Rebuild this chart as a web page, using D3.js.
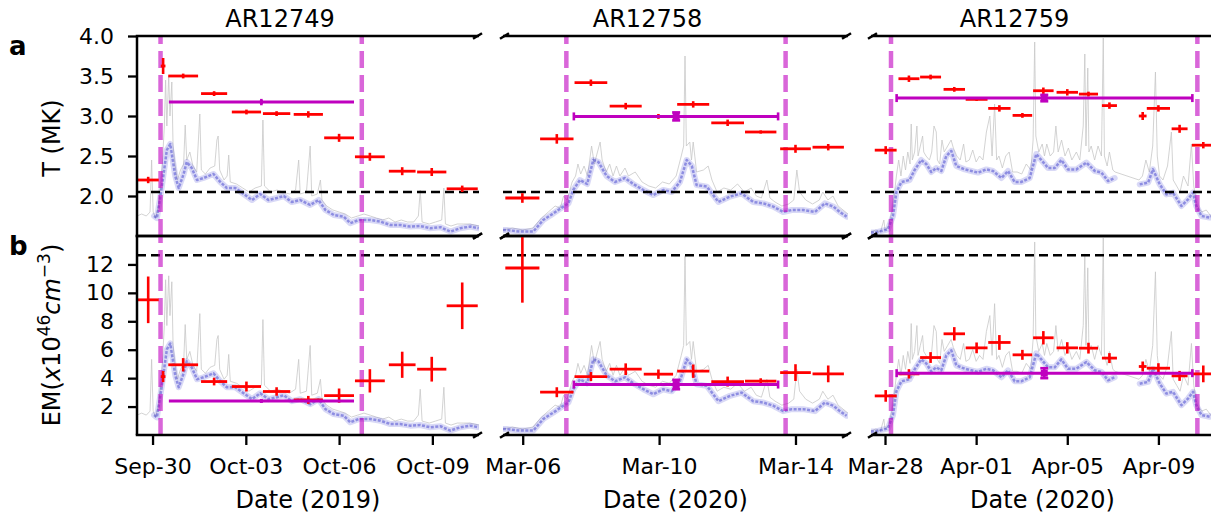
<!DOCTYPE html>
<html><head><meta charset="utf-8">
<script src="https://cdn.jsdelivr.net/npm/d3@7"></script>
<style>body{margin:0;background:#fff;} svg text{font-family:"DejaVu Sans",sans-serif;fill:#000;}</style>
</head><body><svg id="chart" width="1211" height="518"></svg>
<script>
// ---------------- data ----------------
const regions = ["AR12749", "AR12758", "AR12759"];
const dateLabels = ["Date (2019)", "Date (2020)", "Date (2020)"];
const refDates = ["2019-09-30", "2020-03-06", "2020-03-28"];
const xDomainDays = [[-0.5, 10.5], [-0.578, 9.54], [-0.615, 14.44]];
const tickDays = [[0, 3, 6, 9], [0, 4, 8], [0, 4, 8, 12]];
const tTicks = [2.0, 2.5, 3.0, 3.5, 4.0];
const emTicks = [2, 4, 6, 8, 10, 12];
const tThreshold = 2.05;
const emThreshold = 12.65;

// observations: [dayOffset, halfWidthDays, T (MK), T err, EM, EM err]
const obs1 = [
  [-0.14, 0.34, 2.20, 0.04, 9.51, 1.64], [0.34, 0.075, 3.625, 0.10, 4.11, 0.39],
  [0.985, 0.48, 3.50, 0.03, 4.94, 0.47], [1.98, 0.42, 3.28, 0.03, 3.76, 0.27],
  [3.02, 0.47, 3.05, 0.03, 3.41, 0.35], [3.99, 0.44, 3.03, 0.03, 3.06, 0.30],
  [5.01, 0.47, 3.02, 0.04, 2.47, 0.28], [6.0, 0.48, 2.727, 0.05, 2.77, 0.50],
  [6.99, 0.48, 2.49, 0.05, 3.81, 0.82], [8.03, 0.43, 2.31, 0.05, 4.94, 0.92],
  [8.98, 0.47, 2.30, 0.05, 4.63, 0.87], [9.96, 0.50, 2.09, 0.04, 9.09, 1.64]
];
const obs2 = [
  [-0.01, 0.50, 1.975, 0.06, 11.75, 2.44], [1.0, 0.49, 2.714, 0.06, 3.01, 0.35],
  [2.0, 0.48, 3.416, 0.04, 4.11, 0.32], [3.02, 0.47, 3.124, 0.04, 4.63, 0.41],
  [3.98, 0.43, 2.995, 0.03, 4.28, 0.33], [5.0, 0.47, 3.145, 0.04, 4.49, 0.47],
  [6.01, 0.48, 2.915, 0.04, 3.76, 0.35], [6.98, 0.46, 2.80, 0.02, 3.79, 0.20],
  [8.0, 0.45, 2.59, 0.05, 4.39, 0.59], [8.96, 0.46, 2.61, 0.04, 4.30, 0.59]
];
const obs3 = [
  [0.03, 0.48, 2.573, 0.05, 2.75, 0.41], [1.05, 0.46, 3.466, 0.04, 4.30, 0.33],
  [2.0, 0.46, 3.487, 0.03, 5.45, 0.38], [3.04, 0.47, 3.333, 0.03, 7.12, 0.47],
  [4.02, 0.48, 3.208, 0.02, 6.13, 0.38], [5.02, 0.49, 3.095, 0.04, 6.51, 0.52],
  [6.03, 0.43, 3.0075, 0.03, 5.64, 0.35], [6.95, 0.45, 3.316, 0.04, 6.84, 0.47],
  [8.0, 0.47, 3.296, 0.04, 6.13, 0.40], [8.93, 0.42, 3.274, 0.03, 6.11, 0.38],
  [9.85, 0.33, 3.13, 0.04, 5.41, 0.35], [11.31, 0.17, 3.0, 0.05, 4.82, 0.35],
  [12.0, 0.51, 3.095, 0.04, 4.70, 0.35], [12.93, 0.35, 2.84, 0.05, 4.16, 0.35],
  [13.97, 0.50, 2.635, 0.04, 4.30, 0.59]
];

// interval means: [startDay, endDay, centerDay, T, T err, EM, EM err]
const mean1 = [0.525, 6.48, 3.5, 3.174, 0.04, 2.40, 0.10];
const mean2 = [1.5, 7.49, 4.5, 2.995, 0.05, 3.55, 0.33];
const mean3 = [0.51, 13.49, 6.99, 3.224, 0.04, 4.35, 0.35];
const meanCaps = [false, true, true];

// interval boundaries (days)
const vlines1 = [0.257, 6.73];
const vlines2 = [1.28, 7.71];
const vlines3 = [0.263, 13.71];

// light curves, normalised to the panel height: [day, level 0..1]
const gray1 = [[-0.5,0.10],[-0.35,0.11],[-0.2,0.10],[-0.08,0.12],[-0.03,0.38],[0.02,0.12],[0.1,0.09],[0.2,0.16],[0.3,0.32],[0.38,0.55],[0.42,0.78],[0.46,0.55],[0.52,0.80],[0.56,0.6],[0.62,0.77],[0.66,0.45],[0.72,0.36],[0.8,0.28],[0.9,0.33],[1.0,0.36],[1.05,0.555],[1.1,0.38],[1.2,0.42],[1.3,0.35],[1.42,0.32],[1.52,0.61],[1.57,0.33],[1.7,0.31],[1.85,0.34],[2.0,0.35],[2.07,0.48],[2.11,0.50],[2.16,0.33],[2.3,0.28],[2.4,0.30],[2.45,0.405],[2.5,0.27],[2.7,0.26],[2.9,0.24],[3.1,0.22],[3.3,0.24],[3.5,0.25],[3.55,0.58],[3.6,0.25],[3.8,0.22],[4.0,0.23],[4.2,0.22],[4.4,0.21],[4.6,0.23],[4.7,0.38],[4.75,0.21],[4.95,0.22],[5.07,0.45],[5.12,0.20],[5.3,0.21],[5.4,0.28],[5.45,0.18],[5.6,0.15],[5.8,0.13],[6.0,0.12],[6.2,0.11],[6.4,0.09],[6.6,0.10],[6.8,0.11],[7.0,0.10],[7.2,0.09],[7.4,0.08],[7.6,0.09],[7.8,0.07],[8.0,0.08],[8.2,0.07],[8.4,0.07],[8.55,0.10],[8.61,0.23],[8.67,0.07],[8.9,0.06],[9.1,0.07],[9.3,0.08],[9.37,0.24],[9.42,0.06],[9.6,0.05],[9.8,0.06],[10.0,0.06],[10.2,0.06],[10.5,0.05]];
const blue1 = [[0.05,0.10],[0.14,0.089],[0.30,0.247],[0.46,0.43],[0.57,0.46],[0.73,0.30],[0.84,0.24],[1.0,0.31],[1.10,0.37],[1.26,0.34],[1.43,0.28],[1.64,0.29],[1.96,0.31],[2.18,0.27],[2.39,0.24],[2.66,0.24],[2.93,0.21],[3.20,0.18],[3.46,0.21],[3.73,0.18],[4.0,0.19],[4.22,0.20],[4.48,0.17],[4.75,0.18],[5.07,0.155],[5.34,0.18],[5.56,0.13],[5.83,0.105],[6.15,0.097],[6.36,0.064],[6.63,0.08],[7.0,0.08],[7.33,0.072],[7.65,0.055],[7.97,0.055],[8.29,0.047],[8.61,0.05],[8.93,0.039],[9.26,0.044],[9.58,0.022],[9.90,0.039],[10.22,0.047],[10.49,0.039]];
const gray2 = [[-0.58,0.03],[-0.3,0.04],[0,0.03],[0.3,0.04],[0.55,0.09],[0.75,0.12],[0.95,0.15],[1.1,0.14],[1.2,0.2],[1.3,0.18],[1.45,0.27],[1.55,0.3],[1.62,0.36],[1.7,0.31],[1.8,0.35],[1.9,0.30],[2.02,0.45],[2.1,0.36],[2.27,0.47],[2.33,0.38],[2.45,0.32],[2.55,0.36],[2.65,0.30],[2.75,0.35],[2.85,0.30],[3.0,0.34],[3.1,0.30],[3.3,0.32],[3.5,0.27],[3.7,0.25],[3.9,0.24],[4.1,0.27],[4.3,0.26],[4.5,0.30],[4.65,0.40],[4.72,0.45],[4.76,0.90],[4.8,0.45],[4.9,0.47],[4.95,0.38],[5.0,0.47],[5.1,0.32],[5.3,0.33],[5.44,0.35],[5.55,0.28],[5.7,0.22],[5.9,0.24],[6.1,0.23],[6.3,0.26],[6.5,0.22],[6.7,0.24],[6.85,0.20],[7.0,0.19],[7.16,0.28],[7.25,0.19],[7.4,0.17],[7.6,0.15],[7.8,0.16],[7.95,0.18],[8.04,0.33],[8.12,0.22],[8.3,0.18],[8.5,0.16],[8.7,0.18],[8.8,0.22],[8.95,0.18],[9.1,0.20],[9.25,0.15],[9.54,0.11]];
const blue2 = [[-0.58,0.03],[-0.47,0.03],[-0.08,0.022],[0.31,0.022],[0.60,0.08],[0.90,0.113],[1.19,0.147],[1.34,0.163],[1.48,0.23],[1.68,0.28],[1.89,0.26],[2.07,0.38],[2.22,0.37],[2.46,0.30],[2.71,0.27],[3.0,0.29],[3.24,0.26],[3.54,0.23],[3.83,0.205],[4.12,0.23],[4.37,0.22],[4.61,0.27],[4.81,0.38],[4.96,0.35],[5.10,0.255],[5.40,0.247],[5.74,0.17],[6.08,0.197],[6.42,0.213],[6.76,0.17],[7.06,0.163],[7.35,0.147],[7.64,0.12],[7.89,0.13],[8.22,0.13],[8.57,0.12],[8.86,0.163],[9.11,0.147],[9.30,0.12],[9.50,0.097]];
const gray3 = [[-0.62,0.02],[-0.4,0.03],[-0.2,0.02],[-0.05,0.08],[0.0,0.03],[0.15,0.05],[0.3,0.12],[0.4,0.2],[0.5,0.3],[0.6,0.38],[0.7,0.3],[0.8,0.4],[0.9,0.33],[1.0,0.42],[1.1,0.36],[1.15,0.56],[1.2,0.38],[1.3,0.42],[1.4,0.55],[1.45,0.4],[1.55,0.45],[1.65,0.5],[1.7,0.42],[1.8,0.40],[1.95,0.38],[2.05,0.42],[2.15,0.55],[2.25,0.52],[2.3,0.38],[2.4,0.36],[2.5,0.48],[2.6,0.42],[2.75,0.45],[2.9,0.48],[3.0,0.44],[3.15,0.40],[3.3,0.38],[3.45,0.46],[3.55,0.37],[3.7,0.38],[3.85,0.43],[4.0,0.37],[4.15,0.40],[4.3,0.38],[4.45,0.52],[4.6,0.6],[4.7,0.40],[4.81,0.66],[4.9,0.38],[5.0,0.40],[5.15,0.34],[5.3,0.40],[5.45,0.42],[5.6,0.32],[5.8,0.32],[6.0,0.31],[6.2,0.36],[6.4,0.33],[6.5,0.48],[6.57,0.97],[6.62,0.5],[6.75,0.42],[6.9,0.46],[7.0,0.40],[7.1,0.46],[7.25,0.40],[7.4,0.42],[7.5,0.55],[7.6,0.42],[7.75,0.48],[7.9,0.40],[8.05,0.44],[8.2,0.38],[8.4,0.42],[8.55,0.38],[8.7,0.55],[8.77,0.91],[8.82,0.45],[8.9,0.84],[8.95,0.42],[9.05,0.45],[9.2,0.38],[9.35,0.45],[9.5,0.40],[9.58,0.99],[9.63,0.40],[9.75,0.35],[9.85,0.42],[10.0,0.33],[10.1,0.32],[11.15,0.28],[11.3,0.30],[11.45,0.38],[11.6,0.32],[11.75,0.45],[11.87,0.82],[11.95,0.40],[12.05,0.30],[12.2,0.28],[12.4,0.35],[12.57,0.52],[12.65,0.28],[12.8,0.25],[12.95,0.22],[13.1,0.30],[13.3,0.25],[13.45,0.46],[13.55,0.25],[13.7,0.15],[13.9,0.12],[14.1,0.13],[14.3,0.10],[14.45,0.11]];
const blue3 = [[-0.62,0.017],[-0.45,0.017],[0.13,0.033],[0.35,0.10],[0.50,0.22],[0.72,0.27],[1.08,0.28],[1.30,0.33],[1.59,0.38],[1.81,0.36],[2.03,0.32],[2.25,0.34],[2.47,0.325],[2.69,0.40],[2.91,0.425],[3.13,0.35],[3.50,0.333],[3.79,0.325],[4.08,0.317],[4.45,0.333],[4.74,0.325],[5.11,0.29],[5.40,0.325],[5.69,0.27],[5.98,0.27],[6.35,0.29],[6.64,0.41],[6.86,0.38],[7.16,0.34],[7.45,0.34],[7.74,0.38],[8.03,0.333],[8.40,0.333],[8.84,0.367],[9.21,0.325],[9.50,0.317],[9.79,0.275],[10.08,0.29],[10.6,null],[11.18,0.258],[11.55,0.267],[11.76,0.333],[12.06,0.258],[12.35,0.208],[12.64,0.217],[13.01,0.15],[13.30,0.183],[13.52,0.217],[13.66,0.15],[13.89,0.10],[14.25,0.092],[14.45,0.10]];

const obsAll = [obs1, obs2, obs3];
const meanAll = [mean1, mean2, mean3];
const vlinesAll = [vlines1, vlines2, vlines3];
const grayAll = [gray1, gray2, gray3];
const blueAll = [blue1, blue2, blue3];

// ---------------- layout ----------------
const svg = d3.select("#chart");
const panelX = [[137, 479], [503, 848], [871, 1214]];
const rows = [
  { key: "T", top: 36, bottom: 236, y: d3.scaleLinear().domain([1.5, 4.0]).range([236, 36]), vi: 2, ei: 3, thr: tThreshold, mi: 3, mei: 4 },
  { key: "EM", top: 236, bottom: 435, y: d3.scaleLinear().domain([0, 14]).range([435, 236]), vi: 4, ei: 5, thr: emThreshold, mi: 5, mei: 6 }
];
const DAY = 864e5;
const RED = "#ff0000", MAG = "#bf00bf", VLINE = "rgba(191,0,191,0.6)";
const defs = svg.append("defs");

panelX.forEach((px, i) => {
  const ref = new Date(refDates[i] + "T00:00:00Z");
  const toDate = d => new Date(ref.getTime() + d * DAY);
  const x = d3.scaleUtc().domain(xDomainDays[i].map(toDate)).range(px);
  const X = d => x(toDate(d));

  rows.forEach((row, r) => {
    const y = row.y;
    const lc = d3.scaleLinear().domain([0, 1]).range([row.bottom, row.top]);
    const cid = `clip-${r}-${i}`;
    defs.append("clipPath").attr("id", cid).append("rect")
      .attr("x", px[0]).attr("y", row.top).attr("width", px[1] - px[0]).attr("height", row.bottom - row.top);
    const g = svg.append("g").attr("clip-path", `url(#${cid})`);

    // gray light curve
    g.append("path").datum(grayAll[i])
      .attr("d", d3.line().x(d => X(d[0])).y(d => lc(d[1])))
      .attr("fill", "none").attr("stroke", "#c8c8c8").attr("stroke-width", 1).attr("opacity", 0.8);
    // blue smoothed curve
    const bl = d3.line().defined(d => d[1] !== null).x(d => X(d[0])).y(d => lc(d[1]));
    g.append("path").datum(blueAll[i]).attr("d", bl)
      .attr("fill", "none").attr("stroke", "#4040d0").attr("stroke-width", 6).attr("opacity", 0.2)
      .attr("stroke-linejoin", "round").attr("stroke-linecap", "round");
    g.append("path").datum(blueAll[i]).attr("d", bl)
      .attr("fill", "none").attr("stroke", "#3030c8").attr("stroke-width", 2.5).attr("opacity", 0.45)
      .attr("stroke-linejoin", "round").attr("stroke-dasharray", "3,1.5");

    // threshold
    g.append("line").attr("x1", px[0]).attr("x2", px[1])
      .attr("y1", y(row.thr)).attr("y2", y(row.thr))
      .attr("stroke", "#000").attr("stroke-width", 2.6).attr("stroke-dasharray", "9,5");

    // interval boundaries
    g.selectAll(null).data(vlinesAll[i]).join("line")
      .attr("x1", d => X(d)).attr("x2", d => X(d))
      .attr("y1", row.bottom).attr("y2", row.top)
      .attr("stroke", VLINE).attr("stroke-width", 4.5).attr("stroke-dasharray", "17,7");

    // red error bars
    const ob = obsAll[i];
    g.selectAll(null).data(ob).join("line")
      .attr("x1", d => X(d[0] - d[1])).attr("x2", d => X(d[0] + d[1]))
      .attr("y1", d => y(d[row.vi])).attr("y2", d => y(d[row.vi]))
      .attr("stroke", RED).attr("stroke-width", 2.8);
    g.selectAll(null).data(ob).join("line")
      .attr("x1", d => X(d[0])).attr("x2", d => X(d[0]))
      .attr("y1", d => y(d[row.vi] - d[row.ei])).attr("y2", d => y(d[row.vi] + d[row.ei]))
      .attr("stroke", RED).attr("stroke-width", 2.6);

    // interval mean
    const m = meanAll[i];
    const my = y(m[row.mi]);
    g.append("line").attr("x1", X(m[0])).attr("x2", X(m[1])).attr("y1", my).attr("y2", my)
      .attr("stroke", MAG).attr("stroke-width", 3);
    g.append("line").attr("x1", X(m[2])).attr("x2", X(m[2]))
      .attr("y1", y(m[row.mi] - m[row.mei])).attr("y2", y(m[row.mi] + m[row.mei]))
      .attr("stroke", MAG).attr("stroke-width", 2.6);
    if (meanCaps[i]) {
      [m[0], m[1]].forEach(d => {
        g.append("line").attr("x1", X(d)).attr("x2", X(d)).attr("y1", my - 4).attr("y2", my + 4)
          .attr("stroke", MAG).attr("stroke-width", 2.6);
      });
      [m[row.mi] - m[row.mei], m[row.mi] + m[row.mei]].forEach(v => {
        g.append("line").attr("x1", X(m[2]) - 4).attr("x2", X(m[2]) + 4).attr("y1", y(v)).attr("y2", y(v))
          .attr("stroke", MAG).attr("stroke-width", 2.6);
      });
      g.append("rect").attr("x", X(m[2]) - 3.5).attr("y", my - 3.5).attr("width", 7).attr("height", 7).attr("fill", MAG);
    } else {
      g.append("rect").attr("x", X(m[2]) - 1.5).attr("y", my - 2).attr("width", 3).attr("height", 4).attr("fill", MAG);
    }

    // spines
    const sp = svg.append("g").attr("stroke", "#000").attr("stroke-width", 2.5);
    sp.append("line").attr("x1", px[0] - (i === 0 ? 1.25 : 0)).attr("x2", px[1]).attr("y1", row.top).attr("y2", row.top);
    sp.append("line").attr("x1", px[0] - (i === 0 ? 1.25 : 0)).attr("x2", px[1]).attr("y1", row.bottom).attr("y2", row.bottom);
    // break marks
    const edges = [];
    if (i > 0) edges.push(px[0] + 1.5);
    if (i < 2) edges.push(px[1] - 1.5);
    edges.forEach(ex => {
      [row.top, row.bottom].forEach(ey => {
        sp.append("line").attr("x1", ex - 4.5).attr("x2", ex + 4.5).attr("y1", ey + 2.8).attr("y2", ey - 2.8);
      });
    });

    if (i === 0) {
      sp.append("line").attr("x1", px[0]).attr("x2", px[0]).attr("y1", row.top).attr("y2", row.bottom);
      const ax = svg.append("g").attr("transform", `translate(${px[0]},0)`)
        .call(d3.axisLeft(y).tickValues(row.key === "T" ? tTicks : emTicks)
          .tickFormat(row.key === "T" ? d3.format(".1f") : d3.format("d"))
          .tickSize(9).tickPadding(14));
      ax.select(".domain").remove();
      ax.selectAll(".tick line").attr("stroke", "#000").attr("stroke-width", 2.3);
      ax.selectAll(".tick text").style("font-size", "22px").style("font-family", "DejaVu Sans");
    }
    if (r === 1) {
      const ax = svg.append("g").attr("transform", `translate(0,${row.bottom})`)
        .call(d3.axisBottom(x).tickValues(tickDays[i].map(toDate))
          .tickFormat(d3.utcFormat("%b-%d")).tickSize(10).tickPadding(13));
      ax.select(".domain").remove();
      ax.selectAll(".tick line").attr("stroke", "#000").attr("stroke-width", 2.3);
      ax.selectAll(".tick text").style("font-size", "22px").style("font-family", "DejaVu Sans");
    }
  });

  // titles and x labels
  svg.append("text").attr("x", (px[0] + px[1]) / 2 - 28).attr("y", 27)
    .attr("text-anchor", "middle").style("font-size", "24px").text(regions[i]);
  svg.append("text").attr("x", (px[0] + px[1]) / 2).attr("y", 508)
    .attr("text-anchor", "middle").style("font-size", "24px").text(dateLabels[i]);
});

// y labels
svg.append("text").attr("transform", "translate(60,138) rotate(-90)")
  .attr("text-anchor", "middle").style("font-size", "24px").text("T (MK)");
const emLab = svg.append("text").attr("transform", "translate(60,335) rotate(-90)")
  .attr("text-anchor", "middle").style("font-size", "24px");
emLab.append("tspan").text("EM(");
emLab.append("tspan").style("font-style", "italic").text("x");
emLab.append("tspan").text("10");
emLab.append("tspan").attr("dy", -10).style("font-size", "17px").text("46");
emLab.append("tspan").attr("dy", 10).style("font-style", "italic").text("cm");
emLab.append("tspan").attr("dy", -10).style("font-size", "17px").text("\u22123");
emLab.append("tspan").attr("dy", 10).text(")");

// panel letters
svg.append("text").attr("x", 9).attr("y", 55).style("font-size", "26px").style("font-weight", "bold").text("a");
svg.append("text").attr("x", 9).attr("y", 255).style("font-size", "26px").style("font-weight", "bold").text("b");
</script></body></html>
